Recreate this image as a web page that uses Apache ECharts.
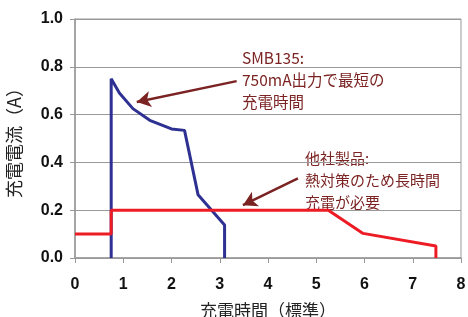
<!DOCTYPE html>
<html>
<head>
<meta charset="utf-8">
<script src="https://cdn.jsdelivr.net/npm/echarts@6/dist/echarts.min.js"></script>
<style>
    html, body { margin: 0; padding: 0; background: #fff; }
    #main { width: 468px; height: 317px; }
</style>
</head>
<body>
<div id="main"></div>
<script>
// SMB135 の充電電流（時間, 電流）
var smbTime = [0.75, 0.75, 0.92, 1.2, 1.55, 2.0, 2.27, 2.55, 3.1, 3.1];
var smbCurrent = [0, 0.75, 0.69, 0.625, 0.576, 0.54, 0.534, 0.265, 0.138, 0];
// 他社製品
var otherTime = [0, 0.75, 0.75, 5.25, 5.97, 7.48, 7.48];
var otherCurrent = [0.1, 0.1, 0.2, 0.2, 0.103, 0.05, 0];

var xTicks = [0, 1, 2, 3, 4, 5, 6, 7, 8];
var yTicks = ['0.0', '0.2', '0.4', '0.6', '0.8', '1.0'];

var note1 = ['SMB135:', '750mA出力で最短の', '充電時間'];
var note2 = ['他社製品:', '熱対策のため長時間', '充電が必要'];
// 矢印（始点, 終点）
var arrow1 = [[3.35, 0.74], [1.28, 0.653]];
var arrow2 = [[4.62, 0.333], [3.48, 0.221]];

function zip(xs, ys) {
    var out = [];
    for (var i = 0; i < xs.length; i++) {
        out.push([xs[i], ys[i]]);
    }
    return out;
}

function init() {
    var myChart = echarts.init(document.getElementById('main'));
    var noteColor = '#7b2323';
    var labelFont = "'Liberation Sans', Arial, sans-serif";
    var cjkFont = "'Noto Sans CJK JP', sans-serif";

    var option = {
        animation: false,
        grid: {
            left: 75,
            right: 7,
            top: 19,
            bottom: 59,
            outerBoundsMode: 'none',
            containLabel: false,
            show: true,
            borderColor: '#999',
            borderWidth: 1
        },
        xAxis: {
            type: 'value',
            min: 0,
            max: 8,
            interval: 1,
            name: '充電時間（標準）',
            nameLocation: 'middle',
            nameGap: 44,
            nameTextStyle: {
                fontFamily: cjkFont,
                fontSize: 17,
                color: '#222'
            },
            axisLine: {lineStyle: {color: '#999', width: 1.5}},
            axisTick: {show: true, length: 5, lineStyle: {color: '#999'}},
            axisLabel: {
                margin: 19,
                fontFamily: labelFont,
                fontWeight: 'bold',
                fontSize: 16,
                color: '#111',
                formatter: function (v) { return xTicks.indexOf(v) >= 0 ? String(v) : ''; }
            },
            splitLine: {show: false}
        },
        yAxis: {
            type: 'value',
            min: 0,
            max: 1,
            interval: 0.2,
            name: '充電電流（A）',
            nameLocation: 'middle',
            nameGap: 52,
            nameTextStyle: {
                fontFamily: cjkFont,
                fontSize: 18,
                color: '#222'
            },
            axisLine: {show: true, lineStyle: {color: '#999', width: 1.5}},
            axisTick: {show: true, length: 5, lineStyle: {color: '#999'}},
            axisLabel: {
                margin: 12,
                fontFamily: labelFont,
                fontWeight: 'bold',
                fontSize: 16,
                color: '#111',
                formatter: function (v) { return yTicks[Math.round(v * 5)]; }
            },
            splitLine: {lineStyle: {color: '#999', width: 1}}
        },
        series: [
            {
                name: 'SMB135',
                type: 'line',
                data: zip(smbTime, smbCurrent),
                showSymbol: false,
                lineStyle: {color: '#2e3192', width: 3},
                z: 2
            },
            {
                name: '他社製品',
                type: 'line',
                data: zip(otherTime, otherCurrent),
                showSymbol: false,
                lineStyle: {color: '#ed1c24', width: 3},
                z: 3,
                markLine: {
                    silent: true,
                    symbol: ['none', 'arrow'],
                    symbolSize: [12, 14],
                    label: {show: false},
                    lineStyle: {color: noteColor, width: 2.5, type: 'solid'},
                    data: [
                        [{coord: arrow1[0]}, {coord: arrow1[1]}],
                        [{coord: arrow2[0]}, {coord: arrow2[1]}]
                    ]
                }
            }
        ],
        graphic: [
            {
                type: 'text',
                left: 242,
                top: 47,
                style: {
                    text: note1.join('\n'),
                    fill: noteColor,
                    fontFamily: cjkFont,
                    fontSize: 15.5,
                    lineHeight: 22
                }
            },
            {
                type: 'text',
                left: 305,
                top: 147,
                style: {
                    text: note2.join('\n'),
                    fill: noteColor,
                    fontFamily: cjkFont,
                    fontSize: 15,
                    lineHeight: 22
                }
            }
        ]
    };
    myChart.setOption(option);
}

init();
</script>
</body>
</html>
